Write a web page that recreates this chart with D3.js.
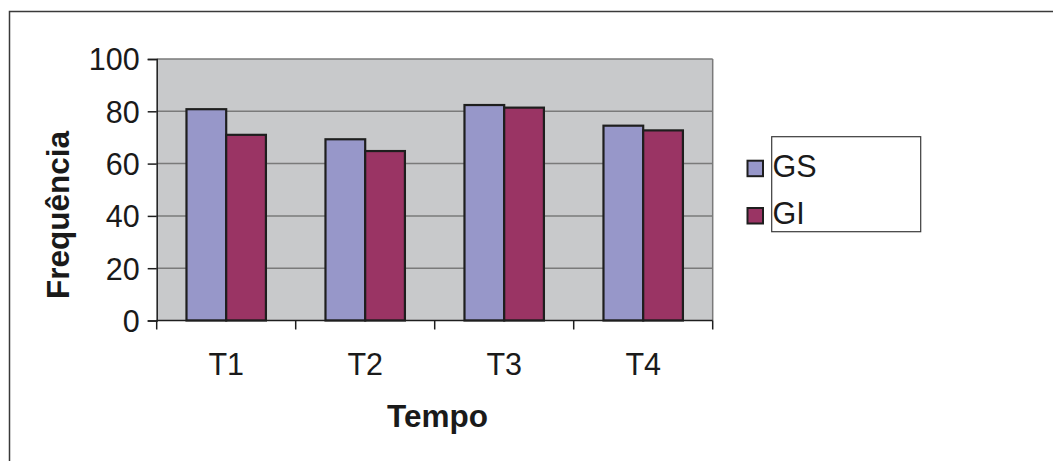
<!DOCTYPE html>
<html>
<head>
<meta charset="utf-8">
<script src="https://cdn.jsdelivr.net/npm/d3@7"></script>
<style>
  html, body { margin: 0; padding: 0; background: #fff; }
  svg { display: block; font-family: "Liberation Sans", Arial, sans-serif; }
</style>
</head>
<body>
<svg id="chart" width="1053" height="461"></svg>
<script>
// Frequency per time point for the two groups
const categories = ["T1", "T2", "T3", "T4"];
const seriesNames = ["GS", "GI"];
const gsValues = [80.8, 69.3, 82.4, 74.5];
const giValues = [71.0, 64.8, 81.4, 72.7];
const yTicks = [0, 20, 40, 60, 80, 100];
const seriesColors = ["#9797c9", "#9a3464"];

const svg = d3.select("#chart");

// outer frame
svg.append("rect")
  .attr("x", 9.5).attr("y", 11.5)
  .attr("width", 1100).attr("height", 500)
  .attr("fill", "#fff").attr("stroke", "#3a3a3a").attr("stroke-width", 1.5);

const plot = { left: 156.7, right: 712.7, top: 59, bottom: 320.5 };

const x = d3.scaleBand().domain(categories).range([plot.left, plot.right]);
const inner = d3.scaleBand().domain(seriesNames)
  .range([0, x.bandwidth()]).paddingOuter(0.75).paddingInner(0);
const y = d3.scaleLinear().domain([0, 100]).range([plot.bottom, plot.top]);

// plot background
svg.append("rect")
  .attr("x", plot.left).attr("y", plot.top)
  .attr("width", plot.right - plot.left).attr("height", plot.bottom - plot.top)
  .attr("fill", "#c8c9cb");

// gridlines
svg.append("g").selectAll("line").data(yTicks.filter(d => d > 0)).join("line")
  .attr("x1", plot.left).attr("x2", plot.right)
  .attr("y1", d => y(d)).attr("y2", d => y(d))
  .attr("stroke", "#7a7a7a").attr("stroke-width", 1.5);

// right edge of plot area
svg.append("line")
  .attr("x1", plot.right).attr("x2", plot.right)
  .attr("y1", plot.top).attr("y2", plot.bottom)
  .attr("stroke", "#7a7a7a").attr("stroke-width", 1.5);

// bars
const rows = categories.map((c, i) => ({ cat: c, vals: [gsValues[i], giValues[i]] }));
const groups = svg.append("g").selectAll("g").data(rows).join("g")
  .attr("transform", d => `translate(${x(d.cat)},0)`);
groups.selectAll("rect").data(d => d.vals.map((v, j) => ({ name: seriesNames[j], v, j }))).join("rect")
  .attr("x", d => inner(d.name))
  .attr("y", d => y(d.v))
  .attr("width", inner.bandwidth())
  .attr("height", d => y(0) - y(d.v))
  .attr("fill", d => seriesColors[d.j])
  .attr("stroke", "#1e1e1e").attr("stroke-width", 2.2);

// y axis
const yAxis = svg.append("g")
  .attr("transform", `translate(${plot.left},0)`)
  .call(d3.axisLeft(y).tickValues(yTicks).tickSize(9).tickPadding(8));
yAxis.select(".domain").attr("stroke", "#1e1e1e").attr("stroke-width", 1.5);
yAxis.selectAll(".tick line").attr("stroke", "#1e1e1e").attr("stroke-width", 1.5);
yAxis.selectAll(".tick text")
  .attr("font-size", 30.5).attr("fill", "#1a1a1a")
  .attr("font-family", "'Liberation Sans', Arial, sans-serif")
  .attr("dy", "0.36em");

// x axis (ticks at category boundaries)
const xAxisG = svg.append("g").attr("transform", `translate(0,${plot.bottom})`);
xAxisG.append("line")
  .attr("x1", plot.left).attr("x2", plot.right)
  .attr("stroke", "#1e1e1e").attr("stroke-width", 1.5);
const boundaries = categories.map(c => x(c)).concat([plot.right]);
xAxisG.selectAll("line.tk").data(boundaries).join("line")
  .attr("class", "tk")
  .attr("x1", d => d).attr("x2", d => d)
  .attr("y1", 0).attr("y2", 9)
  .attr("stroke", "#1e1e1e").attr("stroke-width", 1.5);
xAxisG.selectAll("text").data(categories).join("text")
  .attr("x", d => x(d) + x.bandwidth() / 2)
  .attr("y", 54.5)
  .attr("text-anchor", "middle")
  .attr("font-size", 30.5).attr("fill", "#1a1a1a")
  .text(d => d);

// axis titles
svg.append("text")
  .attr("x", 437.5).attr("y", 427)
  .attr("text-anchor", "middle")
  .attr("font-size", 31.5).attr("font-weight", "bold").attr("fill", "#1a1a1a")
  .text("Tempo");
svg.append("text")
  .attr("transform", "translate(69,215) rotate(-90)")
  .attr("text-anchor", "middle")
  .attr("font-size", 31.5).attr("font-weight", "bold").attr("fill", "#1a1a1a")
  .text("Frequência");

// legend
const legend = svg.append("g");
legend.append("rect")
  .attr("x", 771.7).attr("y", 136.7)
  .attr("width", 149).attr("height", 95)
  .attr("fill", "#fff").attr("stroke", "#3a3a3a").attr("stroke-width", 1.2);
const legendRows = [176.7, 224];
seriesNames.forEach((name, i) => {
  legend.append("rect")
    .attr("x", 747.5).attr("y", legendRows[i] - 16)
    .attr("width", 15.5).attr("height", 15.5)
    .attr("fill", seriesColors[i])
    .attr("stroke", "#1e1e1e").attr("stroke-width", 2);
  legend.append("text")
    .attr("x", 772.5).attr("y", legendRows[i])
    .attr("font-size", 30.5).attr("fill", "#1a1a1a")
    .text(name);
});
</script>
</body>
</html>
